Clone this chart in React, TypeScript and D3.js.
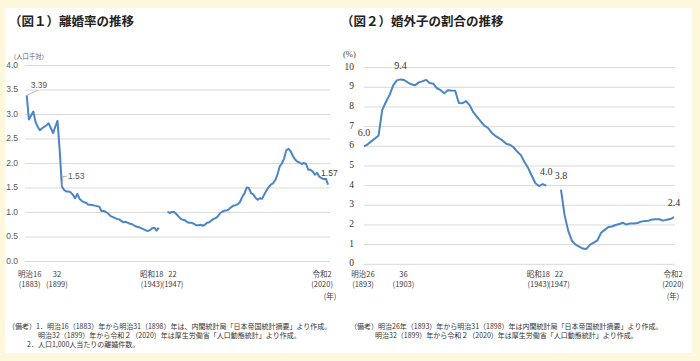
import React from "react";
import * as d3 from "d3";

// ---------- 図1 離婚率 (per 1,000 population) ----------
const divorceFirstYear = 1883;
const divorceRatePrewar = [
  3.39, 2.9, 2.98, 3.06, 2.85, 2.75, 2.68, 2.72, 2.75, 2.78, 2.82, 2.72, 2.62, 2.75, 2.87, 2.27, 1.53,
  1.46, 1.43, 1.43, 1.41, 1.36, 1.29, 1.38, 1.28, 1.24, 1.21, 1.2, 1.16, 1.16, 1.15, 1.14, 1.13, 1.12,
  1.03, 1.03, 1.01, 0.98, 0.93, 0.91, 0.89, 0.87, 0.86, 0.83, 0.8, 0.81, 0.79, 0.77, 0.76, 0.73, 0.71,
  0.7, 0.68, 0.66, 0.64, 0.62, 0.64, 0.68, 0.69, 0.63, 0.69,
];
const divorcePostwarFirstYear = 1947;
const divorceRatePostwar = [
  1.02, 0.99, 1.01, 1.01, 0.97, 0.92, 0.87, 0.85, 0.84, 0.8,
  0.79, 0.79, 0.77, 0.74, 0.74, 0.75, 0.73, 0.75, 0.79, 0.8,
  0.84, 0.87, 0.89, 0.93, 0.99, 1.02, 1.04, 1.04, 1.07, 1.11,
  1.14, 1.15, 1.17, 1.22, 1.32, 1.39, 1.51, 1.5, 1.39, 1.37,
  1.3, 1.26, 1.29, 1.28, 1.37, 1.45, 1.52, 1.57, 1.6, 1.66,
  1.78, 1.94, 2.0, 2.1, 2.27, 2.3, 2.25, 2.15, 2.08, 2.04,
  2.02, 1.99, 2.01, 1.99, 1.87, 1.87, 1.84, 1.77, 1.81, 1.73,
  1.7, 1.68, 1.69, 1.57,
];
const divorceYTicks = [0, 0.5, 1, 1.5, 2, 2.5, 3, 3.5, 4];
const divorceTickYears = [1883, 1899, 1943, 1947, 2020];
const divorceTickEra = ["明治16", "32", "昭和18", "22", "令和2"];
const divorceTickAD = ["(1883)", "(1899)", "(1943)", "(1947)", "(2020)"];
const divorceLabelYears = [1883, 1899, 2020];

// ---------- 図2 婚外子の割合 (%) ----------
const birthFirstYear = 1893;
const birthSharePrewar = [
  6.0, 6.1, 6.25, 6.4, 6.55, 7.85, 8.25, 8.6, 9.1, 9.35, 9.4, 9.37, 9.25, 9.15, 9.1, 9.25, 9.3,
  9.38, 9.22, 9.18, 8.95, 8.85, 8.7, 8.85, 8.83, 8.82, 8.2, 8.19, 8.3, 8.08, 7.72, 7.5, 7.27, 7.05,
  6.93, 6.69, 6.53, 6.42, 6.29, 6.13, 6.08, 5.95, 5.73, 5.55, 5.2, 4.9, 4.5, 4.12, 3.98, 4.08, 4.0,
];
const birthGapYears = [1944, 1945, 1946];
const birthPostwarYears = [
  1947, 1950, 1955, 1960, 1965, 1970, 1975, 1980, 1985, 1990, 1995, 2000,
  2001, 2002, 2003, 2004, 2005, 2006, 2007, 2008, 2009, 2010,
  2011, 2012, 2013, 2014, 2015, 2016, 2017, 2018, 2019, 2020,
];
const birthSharePostwar = [
  3.8, 2.5, 1.7, 1.2, 1.0, 0.9, 0.8, 0.78, 1.0, 1.1, 1.22, 1.6,
  1.75, 1.9, 1.92, 2.0, 2.05, 2.11, 2.02, 2.08, 2.08, 2.1,
  2.17, 2.2, 2.22, 2.28, 2.29, 2.29, 2.22, 2.27, 2.3, 2.4,
];
const birthYTicks = [0, 1, 2, 3, 4, 5, 6, 7, 8, 9, 10];
const birthTickYears = [1893, 1903, 1943, 1947, 2020];
const birthTickEra = ["明治26", "36", "昭和18", "22", "令和2"];
const birthTickAD = ["(1893)", "(1903)", "(1943)", "(1947)", "(2020)"];
const birthLabelYears = [1893, 1903, 1943, 1947, 2020];

type Pt = { year: number; v: number | null };

export default function App() {
  const fontJP = "'Noto Sans CJK JP', 'Noto Sans', sans-serif";
  const fontSerif = "'Liberation Serif', 'DejaVu Serif', serif";
  const fontSans = "'Liberation Sans', Arial, sans-serif";
  const blue = "#4A86C5";
  const gridColor = "#D9D9D9";
  const textGrey = "#595959";

  // ----- left chart -----
  const leftData: Pt[] = [
    ...divorceRatePrewar.map((v, i) => ({ year: divorceFirstYear + i, v })),
    { year: 1945, v: null },
    ...divorceRatePostwar.map((v, i) => ({ year: divorcePostwarFirstYear + i, v })),
  ];
  const xL = d3.scaleLinear().domain([1883, 2020]).range([26.7, 328.1]);
  const yL = d3.scaleLinear().domain([0, 4]).range([261.5, 65.5]);
  const lineL = d3
    .line<Pt>()
    .defined((d) => d.v != null)
    .x((d) => xL(d.year))
    .y((d) => yL(d.v as number));
  const leftTickNudge = [3, -5, -7, 5, -6];
  const findL = (yr: number) => leftData.find((d) => d.year === yr) as Pt;

  // ----- right chart -----
  const rightData: Pt[] = [
    ...birthSharePrewar.map((v, i) => ({ year: birthFirstYear + i, v })),
    ...birthGapYears.map((y) => ({ year: y, v: null })),
    ...birthPostwarYears.map((y, i) => ({ year: y, v: birthSharePostwar[i] })),
  ];
  const xR = d3
    .scalePoint<string>()
    .domain(rightData.map((d) => String(d.year)))
    .range([364, 674]);
  const yR = d3.scaleLinear().domain([0, 10]).range([264.3, 67.6]);
  const lineR = d3
    .line<Pt>()
    .defined((d) => d.v != null)
    .x((d) => xR(String(d.year)) as number)
    .y((d) => yR(d.v as number));
  const rightTickNudge = [-1, 3, -8, -2, -1];
  const findR = (yr: number) => rightData.find((d) => d.year === yr) as Pt;

  return (
    <svg
      width={700}
      height={361}
      style={{ position: "absolute", left: 0, top: 0 }}
      xmlns="http://www.w3.org/2000/svg"
    >
      <rect x={0} y={0} width={700} height={361} fill="#FDF7DC" />
      <rect x={5} y={8} width={687} height={345} fill="#FFFFFF" />

      {/* Titles */}
      <text x={9} y={26} fontFamily={fontJP} fontWeight="bold" fontSize={12.5} fill="#222">
        （図１）離婚率の推移
      </text>
      <text x={341} y={26} fontFamily={fontJP} fontWeight="bold" fontSize={12.5} fill="#222">
        （図２）婚外子の割合の推移
      </text>

      {/* ===== Left chart ===== */}
      <text x={10} y={59} fontFamily={fontJP} fontSize={6.3} fill={textGrey}>
        （人口千対）
      </text>
      {divorceYTicks.map((t) => (
        <g key={"lg" + t}>
          <line x1={25} x2={330} y1={yL(t)} y2={yL(t)} stroke={gridColor} strokeWidth={1} />
          <text
            x={18}
            y={yL(t)}
            textAnchor="end"
            dominantBaseline="middle"
            fontFamily={fontSans}
            fontSize={8.5}
            fill={textGrey}
          >
            {d3.format(".1f")(t)}
          </text>
        </g>
      ))}
      <path d={lineL(leftData) || ""} fill="none" stroke={blue} strokeWidth={2} strokeLinejoin="round" />
      {divorceTickYears.map((yr, i) => (
        <g key={"lt" + yr} fontFamily={fontJP} fontSize={7.5} fill="#404040" textAnchor="middle">
          <text x={xL(yr) + leftTickNudge[i]} y={275} dominantBaseline="middle">
            {divorceTickEra[i]}
          </text>
          <text x={xL(yr) + leftTickNudge[i]} y={285} dominantBaseline="middle">
            {divorceTickAD[i]}
          </text>
        </g>
      ))}
      <text x={330} y={297} textAnchor="middle" dominantBaseline="middle" fontFamily={fontJP} fontSize={7.5} fill="#404040">
        (年)
      </text>
      {/* value labels */}
      {(() => {
        const p0 = findL(divorceLabelYears[0]);
        const x0 = xL(p0.year);
        const y0 = yL(p0.v as number);
        const p1 = findL(divorceLabelYears[1]);
        const x1 = xL(p1.year);
        const y1 = yL(p1.v as number);
        const p2 = findL(divorceLabelYears[2]);
        const x2 = xL(p2.year);
        const y2 = yL(p2.v as number);
        return (
          <g fontFamily={fontSans} fontSize={8.5} fill={textGrey}>
            <line x1={x0} y1={y0} x2={x0 + 11} y2={y0 - 5} stroke="#A6A6A6" strokeWidth={0.8} />
            <text x={x0 + 4} y={y0 - 7}>
              {d3.format(".2f")(p0.v as number)}
            </text>
            <polyline
              points={`${x1},${y1} ${x1 + 1},${y1 - 10} ${x1 + 5},${y1 - 10}`}
              fill="none"
              stroke="#A6A6A6"
              strokeWidth={0.8}
            />
            <text x={x1 + 6} y={y1 - 10} dominantBaseline="middle">
              {d3.format(".2f")(p1.v as number)}
            </text>
            <text x={x2 - 7} y={y2 - 11} dominantBaseline="middle" fill="#404040">
              {d3.format(".2f")(p2.v as number)}
            </text>
          </g>
        );
      })()}

      {/* ===== Right chart ===== */}
      <text x={343} y={57} fontFamily={fontSerif} fontSize={8.5} fill="#404040">
        (%)
      </text>
      {birthYTicks.map((t) => (
        <g key={"rg" + t}>
          <line x1={364} x2={675} y1={yR(t)} y2={yR(t)} stroke={gridColor} strokeWidth={1} />
          <text
            x={354}
            y={yR(t)}
            textAnchor="end"
            dominantBaseline="middle"
            fontFamily={fontSerif}
            fontSize={9.5}
            fill="#333"
          >
            {t}
          </text>
        </g>
      ))}
      <path d={lineR(rightData) || ""} fill="none" stroke={blue} strokeWidth={2} strokeLinejoin="round" />
      {birthTickYears.map((yr, i) => (
        <g key={"rt" + yr} fontFamily={fontJP} fontSize={7.5} fill="#404040" textAnchor="middle">
          <text x={(xR(String(yr)) as number) + rightTickNudge[i]} y={275} dominantBaseline="middle">
            {birthTickEra[i]}
          </text>
          <text x={(xR(String(yr)) as number) + rightTickNudge[i]} y={285} dominantBaseline="middle">
            {birthTickAD[i]}
          </text>
        </g>
      ))}
      <text x={673} y={297} textAnchor="middle" dominantBaseline="middle" fontFamily={fontJP} fontSize={7.5} fill="#404040">
        (年)
      </text>
      {birthLabelYears.map((yr) => {
        const p = findR(yr);
        return (
          <text
            key={"rl" + yr}
            x={xR(String(yr)) as number}
            y={yR(p.v as number) - 13}
            textAnchor="middle"
            dominantBaseline="middle"
            fontFamily={fontSerif}
            fontSize={10}
            fill="#333"
          >
            {d3.format(".1f")(p.v as number)}
          </text>
        );
      })}

      {/* Footnotes */}
      <g fontFamily={fontJP} fontSize={7} fill="#333">
        <text x={8} y={329}>
          （備考）1．明治16（1883）年から明治31（1898）年は、内閣統計局「日本帝国統計摘要」より作成。
        </text>
        <text x={38} y={338}>
          明治32（1899）年から令和２（2020）年は厚生労働省「人口動態統計」より作成。
        </text>
        <text x={27} y={347}>
          2．人口1,000人当たりの離婚件数。
        </text>
        <text x={350} y={329}>
          （備考）明治26年（1893）年から明治31（1898）年は内閣統計局「日本帝国統計摘要」より作成。
        </text>
        <text x={375} y={338}>
          明治32（1899）年から令和２（2020）年は厚生労働省「人口動態統計」より作成。
        </text>
      </g>
    </svg>
  );
}
